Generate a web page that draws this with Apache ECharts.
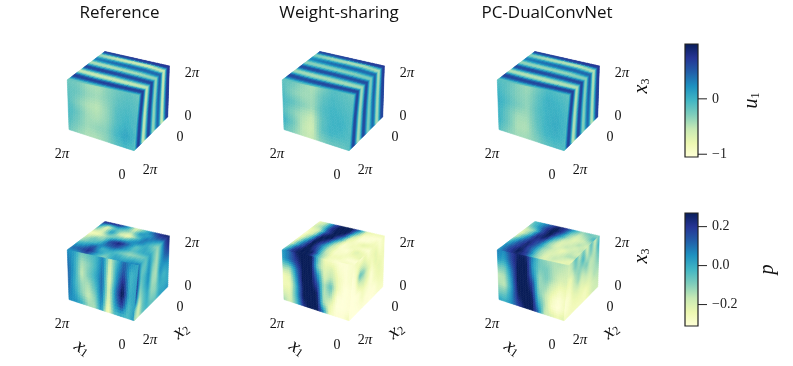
<!DOCTYPE html>
<html><head><meta charset="utf-8">
<style>html,body{margin:0;padding:0;background:#fff}#c{width:793px;height:366px}</style>
<script src="https://cdn.jsdelivr.net/npm/echarts@6/dist/echarts.min.js"></script>
</head><body><div id="c"></div>
<script>
const titles = ['Reference', 'Weight-sharing', 'PC-DualConvNet'];
const cubeTickLabels = ['2π', '0', '2π', '0', '0', '2π'];
const u1Range = [-1.05, 0.99];
const pRange = [-0.31, 0.27];
const u1Ticks = [-1, 0];
const pTicks = [-0.2, 0, 0.2];
const colormap = ['#ffffd9','#edf8b1','#c7e9b4','#7fcdbb','#41b6c4','#1d91c0','#225ea8','#253494','#081d58'];

// u1, Reference
const u1RefTop = [
[-.15,-.25,.2,.6,.72,.3,-.4,-.6,-.15,.5,.65,.3,-.35,-.5,0,.35,.2,-.3,-.4,.3,.7],
[-.2,-.15,.35,.7,.5,-.15,-.6,-.5,.1,.6,.65,.1,-.45,-.45,.15,.45,.2,-.45,-.55,.4,.72],
[-.25,-.05,.5,.72,.4,-.3,-.6,-.4,.15,.62,.55,.05,-.5,-.3,.25,.5,.2,-.5,-.6,.45,.75],
[-.25,.05,.55,.72,.3,-.45,-.58,-.2,.35,.65,.45,-.15,-.5,-.15,.35,.5,.1,-.55,-.6,.55,.75],
[-.3,.05,.55,.7,.3,-.5,-.5,-.05,.55,.65,.25,-.35,-.35,.2,.5,.3,-.5,-.6,.05,.65,.75]];
const u1RefRight = [
[-.3,.05,.55,.7,.3,-.5,-.5,-.05,.55,.65,.25,-.35,-.35,.2,.5,.3,-.5,-.6,.05,.65,.75],
[-.25,.12,.6,.68,.2,-.52,-.48,.05,.6,.62,.2,-.38,-.3,.25,.55,.25,-.5,-.55,.15,.65,.72],
[-.2,.18,.65,.62,.1,-.55,-.45,.1,.65,.6,.12,-.4,-.25,.3,.5,.2,-.5,-.55,.2,.68,.68],
[-.2,.12,.6,.65,.2,-.52,-.48,.05,.6,.6,.2,-.38,-.3,.22,.5,.25,-.5,-.55,.15,.65,.68],
[-.25,.02,.55,.7,.25,-.5,-.52,-.05,.55,.65,.25,-.35,-.35,.15,.45,.3,-.45,-.58,.05,.6,.68]];
const u1RefLeft = [
[-.2,-.25,-.4,-.45,-.3,-.2,-.15,-.2],
[-.15,-.2,-.35,-.4,-.3,-.15,-.1,-.15],
[-.1,-.3,-.45,-.5,-.35,-.1,-.05,-.1],
[-.05,-.2,-.4,-.45,-.35,-.1,0,-.1],
[-.1,-.25,-.4,-.35,-.3,-.05,.1,-.05],
[-.2,-.35,-.45,-.45,-.35,-.15,-.05,-.1]];
// u1, Weight-sharing
const u1WsTop = [
[-.15,-.2,.2,.55,.65,.3,-.3,-.45,-.1,.45,.6,.3,-.25,-.35,.02,.3,.2,-.2,-.3,.3,.68],
[-.18,-.1,.35,.62,.48,-.1,-.45,-.4,.12,.55,.6,.12,-.33,-.32,.15,.42,.2,-.35,-.42,.38,.68],
[-.2,-.05,.48,.65,.38,-.22,-.45,-.32,.15,.58,.52,.05,-.38,-.22,.25,.48,.2,-.4,-.45,.45,.7],
[-.2,.05,.5,.68,.3,-.35,-.45,-.18,.32,.62,.42,-.1,-.38,-.1,.35,.48,.12,-.42,-.45,.55,.72],
[-.22,.05,.52,.66,.28,-.4,-.4,-.05,.52,.62,.25,-.28,-.25,.2,.48,.3,-.4,-.48,.05,.6,.72]];
const u1WsRight = [
[-.22,.05,.52,.66,.28,-.4,-.4,-.05,.52,.62,.25,-.28,-.25,.2,.48,.3,-.4,-.48,.05,.6,.72],
[-.18,.12,.58,.62,.18,-.42,-.38,.05,.58,.6,.18,-.3,-.22,.25,.52,.25,-.38,-.42,.12,.6,.68],
[-.18,.18,.62,.58,.1,-.42,-.35,.1,.62,.56,.12,-.3,-.18,.3,.48,.2,-.38,-.42,.2,.62,.64],
[-.18,.12,.58,.62,.18,-.42,-.38,.05,.58,.58,.18,-.3,-.22,.22,.48,.25,-.38,-.42,.12,.6,.64],
[-.18,.02,.54,.66,.25,-.4,-.42,-.05,.54,.62,.25,-.28,-.25,.15,.42,.3,-.35,-.45,.05,.56,.64]];
const u1WsLeft = [
[-.15,-.2,-.35,-.45,-.25,-.1,-.15,-.2],
[-.1,-.3,-.4,-.4,-.15,-.05,-.1,-.15],
[-.05,-.15,-.3,-.4,-.1,-.02,-.05,-.1],
[-.1,-.3,-.45,-.55,-.15,-.02,0,-.1],
[0,-.2,-.5,-.6,-.15,-.02,-.05,-.1],
[-.15,-.3,-.5,-.55,-.3,-.2,-.2,-.15]];
// u1, PC-DualConvNet
const u1PcTop = [
[-.12,-.2,.22,.6,.68,.3,-.35,-.5,-.1,.48,.62,.3,-.28,-.4,.02,.35,.22,-.22,-.32,.3,.72],
[-.18,-.1,.38,.66,.5,-.1,-.5,-.45,.12,.58,.62,.12,-.38,-.35,.18,.42,.22,-.38,-.45,.38,.72],
[-.2,-.05,.5,.66,.38,-.28,-.5,-.36,.18,.6,.52,.05,-.42,-.25,.28,.48,.2,-.42,-.48,.48,.72],
[-.2,.05,.5,.7,.3,-.4,-.5,-.22,.32,.65,.42,-.15,-.42,-.15,.38,.48,.12,-.48,-.48,.58,.75],
[-.22,.08,.55,.7,.28,-.45,-.45,-.05,.55,.65,.25,-.32,-.28,.25,.5,.3,-.45,-.5,.08,.62,.75]];
const u1PcRight = [
[-.22,.08,.55,.7,.28,-.45,-.45,-.05,.55,.65,.25,-.32,-.28,.25,.5,.3,-.45,-.5,.08,.62,.75],
[-.18,.12,.6,.66,.18,-.48,-.42,.05,.58,.62,.18,-.35,-.25,.3,.52,.25,-.42,-.45,.12,.62,.7],
[-.18,.18,.65,.6,.1,-.48,-.4,.1,.62,.58,.12,-.35,-.2,.3,.48,.2,-.42,-.45,.2,.62,.66],
[-.18,.12,.6,.62,.18,-.48,-.42,.05,.62,.58,.18,-.35,-.25,.25,.48,.25,-.42,-.45,.12,.62,.66],
[-.18,.02,.56,.66,.25,-.45,-.48,-.05,.56,.62,.25,-.3,-.28,.15,.42,.3,-.38,-.5,.05,.58,.66]];
const u1PcLeft = [
[-.1,-.15,-.3,-.4,-.2,-.05,-.1,-.15],
[-.02,-.15,-.3,-.35,-.15,.02,-.02,-.1],
[.05,-.1,-.25,-.35,-.12,0,.02,-.05],
[.02,-.2,-.4,-.4,-.15,0,.05,-.05],
[0,-.2,-.45,-.45,-.2,-.02,.02,-.05],
[-.1,-.3,-.4,-.4,-.3,-.15,-.1,-.1]];
// p, Reference
const pRefTop = [
[.05,.1,.02,-.12,-.18,-.28,-.12,.05,.22],
[.05,.14,.05,-.06,-.08,-.24,-.2,-.22,.25],
[.14,.22,.16,0,-.1,-.12,.05,-.04,.22],
[0,.05,-.02,.12,.16,-.06,-.18,-.08,.05],
[-.12,-.06,.02,.16,.25,-.02,-.26,-.14,-.22],
[.02,.02,-.06,.05,.1,.05,-.08,.05,-.08],
[.05,-.02,-.12,-.05,-.06,.08,.1,.02,.1],
[.08,0,-.1,0,.02,-.02,.05,.14,.22],
[.1,-.02,-.06,.02,-.06,-.12,-.02,.16,.25]];
const pRefRight = [
[.1,-.02,-.06,.02,-.06,-.12,-.02,.16,.25],
[.15,-.06,-.06,.05,-.06,-.14,0,.14,.22],
[.2,-.06,-.02,.06,-.1,-.14,.02,.1,.14],
[.22,-.1,-.02,.06,-.12,-.14,.05,.03,.05],
[.14,-.14,-.05,.02,-.12,-.12,.02,-.02,.02],
[-.05,-.2,-.06,0,-.1,-.1,0,0,0],
[-.12,-.18,-.06,-.02,-.06,-.06,.02,.02,.05]];
const pRefLeft = [
[.06,.03,-.08,-.05,-.02,.08,-.18,-.02,.12,.05,0],
[.1,.02,-.14,-.1,-.02,.1,-.22,.02,.16,-.02,.02],
[.12,.02,-.17,-.08,0,.12,-.24,.04,.24,-.02,.03],
[.12,0,-.12,-.14,-.04,.12,-.22,.08,.3,0,.02],
[.1,.02,-.1,-.17,-.1,.1,-.24,.04,.2,-.04,.03],
[.06,.05,0,-.12,-.14,.05,-.28,-.04,-.02,-.04,.05]];
// p, Weight-sharing
const pWsTop = [
[0,-.1,-.2,-.25,-.28,-.3,-.25,-.2,-.25],
[.2,.2,.1,.05,-.05,-.15,-.2,-.1,-.15],
[.3,.3,.3,.3,.3,.25,.15,.2,.15],
[.25,.25,.15,.1,.2,.3,.3,.3,.3],
[-.05,-.1,-.15,-.15,-.1,.05,.2,.3,.3],
[-.25,-.25,-.28,-.28,-.3,-.25,-.18,-.05,.1],
[-.3,-.25,-.27,-.3,-.25,-.27,-.3,-.28,-.22],
[-.25,-.3,-.25,-.2,-.27,-.22,-.3,-.3,-.25],
[-.28,-.3,-.22,-.25,-.3,-.25,-.25,-.3,-.25]];
const pWsRight = [
[-.28,-.25,-.3,-.25,-.3,-.25,-.27,-.3,-.25],
[-.3,-.26,-.2,-.2,-.26,-.25,-.22,-.28,-.26],
[-.31,-.28,-.05,-.1,-.2,-.27,-.22,-.25,-.25],
[-.31,-.3,-.2,-.17,-.22,-.3,-.25,-.22,-.26],
[-.31,-.31,-.3,-.25,-.27,-.3,-.26,-.24,-.25],
[-.31,-.31,-.3,-.27,-.3,-.3,-.3,-.26,-.26],
[-.3,-.31,-.31,-.3,-.3,-.31,-.3,-.28,-.28]];
const pWsLeft = [
[.03,.1,.25,.3,.3,-.05,-.25,-.28,-.3,-.3,-.28],
[.02,.1,.2,.3,.3,-.1,-.22,-.2,-.28,-.3,-.28],
[-.12,-.12,.1,.3,.3,.05,-.2,-.15,-.25,-.3,-.28],
[-.25,-.22,.05,.3,.3,.15,-.15,-.05,-.25,-.31,-.3],
[-.25,-.25,0,.27,.3,.25,-.15,-.12,-.3,-.31,-.3],
[-.2,-.22,0,.27,.3,.3,-.12,-.22,-.31,-.31,-.3],
[-.12,-.2,-.05,.2,.3,.3,.1,-.25,-.3,-.3,-.25]];
// p, PC-DualConvNet
const pPcTop = [
[.02,.05,.02,-.06,-.18,-.24,-.2,-.1,-.05],
[.15,.18,.15,.12,.05,-.06,-.12,.03,.02],
[.25,.28,.25,.25,.22,.22,.16,.18,.12],
[.2,.16,.1,.12,.16,.25,.3,.3,.25],
[-.06,-.1,-.12,-.1,-.1,-.04,.08,.18,.2],
[-.2,-.22,-.2,-.18,-.22,-.2,-.12,-.08,.02],
[-.2,-.16,-.2,-.24,-.16,-.2,-.22,-.18,-.12],
[-.24,-.2,-.14,-.16,-.2,-.14,-.18,-.12,-.06],
[-.2,-.24,-.14,-.2,-.14,-.2,-.12,0,-.12]];
const pPcRight = [
[-.18,-.14,-.04,-.16,-.08,-.2,-.04,-.18,-.06],
[-.2,-.16,-.08,-.12,-.02,-.16,-.08,-.16,0],
[-.22,-.24,-.14,-.1,-.12,-.08,-.16,-.14,-.06],
[-.26,-.26,-.18,-.12,-.18,-.14,-.16,-.14,-.1],
[-.3,-.28,-.22,-.2,-.22,-.2,-.2,-.14,-.14],
[-.3,-.28,-.25,-.24,-.24,-.26,-.22,-.18,-.16],
[-.26,-.26,-.26,-.26,-.26,-.26,-.22,-.18,-.18]];
const pPcLeft = [
[.08,.06,.18,.26,.25,.05,-.08,-.12,-.14,-.14,-.16],
[.05,.02,.16,.28,.3,.03,-.08,-.08,-.14,-.16,-.18],
[-.08,-.08,.1,.3,.3,.08,-.12,-.08,-.14,-.2,-.2],
[-.16,-.14,.06,.3,.3,.18,-.12,-.12,-.2,-.26,-.24],
[-.14,-.16,.03,.28,.3,.24,-.08,-.16,-.26,-.3,-.26],
[-.08,-.08,.05,.24,.3,.3,0,-.14,-.28,-.31,-.26],
[.02,0,.06,.18,.26,.3,.12,-.16,-.2,-.24,-.2]];

const panels = [
 {col:0,row:0,range:u1Range,top:u1RefTop,left:u1RefLeft,right:u1RefRight},
 {col:1,row:0,range:u1Range,top:u1WsTop,left:u1WsLeft,right:u1WsRight},
 {col:2,row:0,range:u1Range,top:u1PcTop,left:u1PcLeft,right:u1PcRight},
 {col:0,row:1,range:pRange,top:pRefTop,left:pRefLeft,right:pRefRight},
 {col:1,row:1,range:pRange,top:pWsTop,left:pWsLeft,right:pWsRight},
 {col:2,row:1,range:pRange,top:pPcTop,left:pPcLeft,right:pPcRight}
];

// Projected cube corners on the hidden scene axes (first panel); others are shifted.
const COLDX = 215, ROWDY = 170;
const V = {L:[67.3,80],B:[105,51.5],R:[169.3,66],F:[139,95.7],Lb:[69,129.5],Fb:[134,150.7],Rb:[167.7,116.7]};
const SUB = 4;
const lut = [];
for (let i=0;i<=255;i++) lut.push(echarts.color.lerp(i/255,colormap));
const colorOf=(v,r)=>lut[Math.max(0,Math.min(255,Math.round((v-r[0])/(r[1]-r[0])*255)))];
function bil(q,a,b){ // q=[p00,p01,p10,p11], a along rows, b along cols
  const f=k=>(1-a)*(1-b)*q[0][k]+(1-a)*b*q[1][k]+a*(1-b)*q[2][k]+a*b*q[3][k];
  return [f(0),f(1)];
}
function faceSeries(grid,quad,range,dx,dy){
  const nr=grid.length-1,nc=grid[0].length-1,cells=[];
  for(let i=0;i<nr;i++)for(let j=0;j<nc;j++)cells.push([i,j]);
  return {type:'custom',coordinateSystem:'cartesian2d',xAxisIndex:0,yAxisIndex:0,silent:true,clip:false,animation:false,
    data:cells,
    renderItem(p,api){
      const i=api.value(0),j=api.value(1),kids=[];
      const a=grid[i][j],b=grid[i][j+1],c=grid[i+1][j],d=grid[i+1][j+1];
      for(let s=0;s<SUB;s++)for(let t=0;t<SUB;t++){
        const s0=(i+s/SUB)/nr,s1=(i+(s+1)/SUB)/nr,t0=(j+t/SUB)/nc,t1=(j+(t+1)/SUB)/nc;
        const m=(s+.5)/SUB,n=(t+.5)/SUB;
        const v=(1-m)*(1-n)*a+(1-m)*n*b+m*(1-n)*c+m*n*d;
        const col=colorOf(v,range);
        const pts=[[s0,t0],[s0,t1],[s1,t1],[s1,t0]].map(o=>{const w=bil(quad,o[0],o[1]);return api.coord([w[0]+dx,w[1]+dy]);});
        kids.push({type:'polygon',shape:{points:pts},style:{fill:col,stroke:col,lineWidth:.6}});
      }
      return {type:'group',children:kids};
    }};
}
const series=[];
panels.forEach(p=>{
  const dx=p.col*COLDX,dy=p.row*ROWDY;
  series.push(faceSeries(p.top,[V.L,V.B,V.F,V.R],p.range,dx,dy));
  series.push(faceSeries(p.left,[V.L,V.F,V.Lb,V.Fb],p.range,dx,dy));
  series.push(faceSeries(p.right,[V.F,V.R,V.Fb,V.Rb],p.range,dx,dy));
});

// Axis labels of the cubes
const tickPos=[[62,154],[122,175],[150,170],[180,137],[188,116],[192,73]];
const txt=[];
for(let c=0;c<3;c++)for(let r=0;r<2;r++){
  cubeTickLabels.forEach((s,k)=>txt.push({x:tickPos[k][0]+c*COLDX,y:tickPos[k][1]+r*ROWDY,text:s==='2π'?'{n|2}{m|π}':'{n|'+s+'}',rot:0}));
  if(r===1){
    txt.push({x:82+c*COLDX,y:178+ROWDY,text:'{l|x}{s|1}',rot:-.6});
    txt.push({x:181+c*COLDX,y:161+ROWDY,text:'{l|x}{s|2}',rot:.65});
  }
  if(c===2) txt.push({x:212+c*COLDX,y:86+r*ROWDY,text:'{l|x}{s|3}',rot:Math.PI/2});
}
const rich={n:{fontFamily:'Liberation Serif',fontSize:14,fill:'#111',color:'#111'},
  m:{fontFamily:'Liberation Serif',fontStyle:'italic',fontSize:15,fill:'#111',color:'#111'},
  l:{fontFamily:'Liberation Serif',fontStyle:'italic',fontSize:20,fill:'#111',color:'#111'},
  s:{fontFamily:'Liberation Serif',fontSize:12,fill:'#111',color:'#111',padding:[7,0,0,0]}};
series.push({type:'custom',coordinateSystem:'cartesian2d',xAxisIndex:0,yAxisIndex:0,silent:true,clip:false,animation:false,
  data:txt.map((t,i)=>[i]),
  renderItem(p,api){
    const t=txt[api.value(0)],q=api.coord([t.x,t.y]);
    return {type:'text',x:q[0],y:q[1],rotation:t.rot,style:{text:t.text,rich:rich,align:'center',verticalAlign:'middle',fill:'#111'}};
  }});

// Colour bars, with their tick marks placed through the bar's own value axis
function barSeries(ax,ticks){
  return {type:'custom',coordinateSystem:'cartesian2d',xAxisIndex:ax,yAxisIndex:ax,silent:true,clip:false,animation:false,
    data:[[0]],
    renderItem(p,api){
      const cs=p.coordSys;
      const kids=[{type:'rect',shape:{x:cs.x,y:cs.y,width:cs.width,height:cs.height},
        style:{fill:new echarts.graphic.LinearGradient(0,1,0,0,colormap.map((c,i)=>({offset:i/(colormap.length-1),color:c}))),stroke:'#222',lineWidth:1.2}}];
      ticks.forEach(t=>{const q=api.coord([1,t]);
        kids.push({type:'line',shape:{x1:q[0],y1:q[1],x2:q[0]+9,y2:q[1]},style:{stroke:'#222',lineWidth:1}});});
      return {type:'group',children:kids};
    }};
}
series.push(barSeries(1,u1Ticks),barSeries(2,pTicks));
const minus=s=>String(s).replace('-','\u2212');
function barY(idx,range,ticks,fmt,name,gap){
  return {gridIndex:idx,type:'value',position:'right',min:range[0],max:range[1],splitLine:{show:false},
    axisLine:{show:false},
    axisTick:{show:false},
    axisLabel:{show:true,customValues:ticks,margin:14,formatter:v=>minus(fmt(v)),fontFamily:'Liberation Serif',fontSize:14,color:'#222'},
    name:name,nameLocation:'middle',nameRotate:90,nameGap:gap,
    nameTextStyle:{rich:rich}};
}
const option={
  animation:false,backgroundColor:'#fff',
  title:titles.map((t,i)=>({text:t,left:[114.5,334,542][i],top:0,textAlign:'center',
    textStyle:{fontFamily:'Open Sans',fontWeight:'normal',fontSize:17,color:'#111'}})),
  grid:[{left:0,top:0,width:793,height:366},{left:685,top:44,width:13,height:113},{left:685,top:213,width:13,height:113}],
  xAxis:[{type:'value',min:0,max:793,show:false,gridIndex:0},{type:'value',min:0,max:1,show:false,gridIndex:1},{type:'value',min:0,max:1,show:false,gridIndex:2}],
  yAxis:[{type:'value',min:0,max:366,inverse:true,show:false,gridIndex:0},
    barY(1,u1Range,u1Ticks,v=>v.toFixed(0),'{l|u}{s|1}',44),
    barY(2,pRange,pTicks,v=>v.toFixed(1),'{l|p}',60)],
  series:series
};
echarts.init(document.getElementById('c'),null,{renderer:'canvas'}).setOption(option);
</script></body></html>
